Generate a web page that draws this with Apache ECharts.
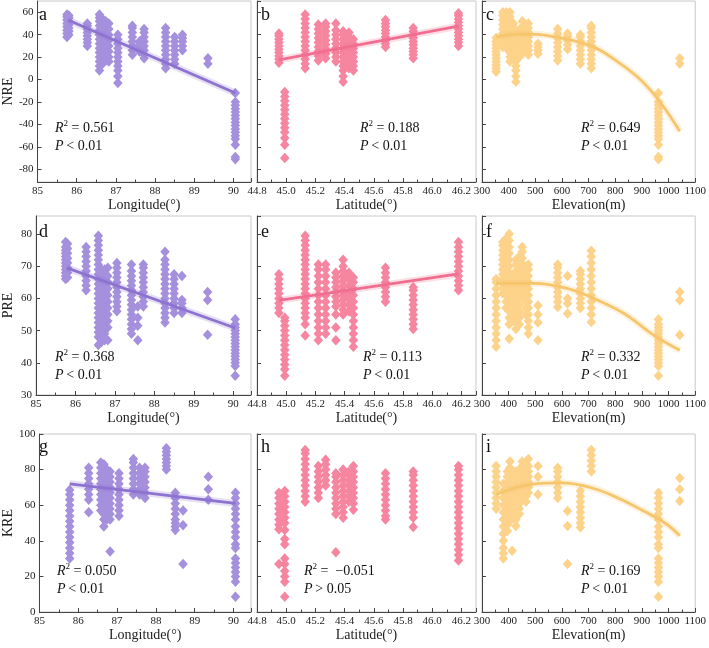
<!DOCTYPE html>
<html>
<head>
<meta charset="utf-8">
<script src="https://cdn.jsdelivr.net/npm/echarts@6/dist/echarts.min.js"></script>
<style>
  body { margin: 0; background: #fff; }
  #main { width: 709px; height: 648px; }
</style>
</head>
<body>
<div id="main"></div>
<script>
// columns of points: [x, [y values]]
const nreLon = [
  [85.75, [38, 41, 44, 47, 50, 53, 56, 58]],
  [85.8, [40, 43, 46, 49, 52, 55, 57]],
  [86.27, [30, 33, 36, 39, 42, 45, 48, 50]],
  [86.58, [8, 12, 16, 20, 24, 28, 32, 36, 40, 44, 48, 52, 55, 58]],
  [86.66, [14, 18, 22, 26, 30, 34, 38, 42, 46, 50, 54]],
  [86.74, [17, 21, 25, 29, 33, 37, 41, 45, 49, 52]],
  [86.82, [16, 20, 25, 30, 35, 40, 45, 50]],
  [87.05, [-3, 3, 8, 12, 16, 20, 24, 28, 32, 36, 40]],
  [87.42, [22, 26, 30, 34, 38, 42, 46, 48]],
  [87.6, [25, 28, 31, 34]],
  [87.72, [19, 22, 26, 30, 34, 38, 42, 45]],
  [88.27, [10, 14, 18, 22, 26, 30, 34, 38, 42, 46]],
  [88.5, [14, 18, 22, 26, 30, 34, 38]],
  [88.7, [26, 30, 34, 37, 40]],
  [89.35, [14, 19]],
  [90.05, [-71, -69, -58, -53, -50, -47, -44, -41, -38, -35, -32, -29, -26, -23, -20, -12]]
]
const nreLat = [
  [44.95, [15, 18, 21, 24, 27, 30, 33, 36, 39, 41]],
  [44.99, [-70, -58, -52, -47, -43, -39, -35, -31, -27, -23, -19, -15, -11]],
  [45.13, [10, 14, 18, 22, 26, 30, 34, 38, 42, 46, 50, 54, 58]],
  [45.22, [17, 21, 25, 29, 33, 37, 41, 45, 49]],
  [45.27, [19, 23, 27, 31, 35, 39, 43, 47, 50]],
  [45.34, [16, 20, 24, 28, 32, 36, 40, 44, 50]],
  [45.39, [-2, 3, 8, 12, 16, 20, 24, 28, 32, 36, 40, 43]],
  [45.43, [10, 14, 18, 22, 26, 30, 34, 38, 42]],
  [45.46, [8, 12, 16, 20, 24, 28, 32, 36]],
  [45.68, [29, 32, 35, 38, 41, 44, 47, 50, 53]],
  [45.87, [19, 22, 25, 28, 31, 34, 37, 40, 43, 46]],
  [46.18, [30, 33, 36, 39, 42, 45, 48, 51, 54, 57, 59]]
]
const nreElev = [
  [353, [7, 10, 13, 16, 19, 22, 25, 28, 31, 34, 37]],
  [378, [29, 33, 37, 41, 45, 49, 53, 57, 60]],
  [392, [28, 32, 36, 40, 44, 48, 52, 56, 60]],
  [405, [16, 20, 24, 28, 32, 36, 40, 44, 48, 52, 56, 60]],
  [418, [30, 34, 38, 42, 46, 50]],
  [427, [-2, 3, 8, 12, 16, 20, 24, 28, 32, 36, 40, 44]],
  [440, [20, 24, 28, 32, 36, 40, 44]],
  [451, [23, 27, 31, 35, 39, 43, 47, 52]],
  [465, [25, 29, 33, 37, 41, 45, 49]],
  [474, [22, 26, 30, 34, 38, 42, 46, 50]],
  [510, [23, 26, 29, 32]],
  [584, [17, 21, 25, 29, 33, 37, 41, 45]],
  [621, [27, 31, 35, 39, 41]],
  [669, [14, 18, 22, 26, 30, 34, 38, 40]],
  [710, [10, 14, 18, 22, 26, 30, 34, 38, 42, 46, 48]],
  [962, [-71, -69, -58, -53, -50, -47, -44, -41, -38, -35, -32, -29, -26, -23, -20, -12]],
  [1042, [14, 19]]
]
const preLon = [
  [85.75, [66, 67, 68, 69, 70, 71, 72, 73, 74, 75, 76, 77.5]],
  [85.8, [66.5, 68, 69.5, 71, 72.5, 74, 75.5, 77]],
  [86.27, [62.5, 64, 65.5, 67, 68.5, 70, 71.5, 73, 74.5, 76]],
  [86.58, [45.5, 48, 49.5, 51, 52.5, 54, 55.5, 57, 58.5, 60, 61.5, 63, 64.5, 66, 67.5, 69, 70.5, 72, 73.5, 75, 76.5, 78, 79.5]],
  [86.66, [46.5, 48, 49.5, 51, 52.5, 54, 55.5, 57, 58.5, 60, 61.5, 63, 64.5, 66, 67.5, 69]],
  [86.74, [47, 49, 51, 53, 55, 57, 59, 61, 63, 65, 67, 69]],
  [86.82, [47, 51, 53, 55, 57, 59, 61, 63, 65, 67, 69.5]],
  [87.05, [56, 57.5, 59, 60.5, 62, 63.5, 65, 66.5, 68, 69.5, 71]],
  [87.42, [49, 50.5, 52, 53.5, 55, 56.5, 58, 59.5, 61, 62.5, 64, 65.5, 67, 68.5, 70.5]],
  [87.58, [47, 51.5, 54, 57.5]],
  [87.72, [57.5, 59, 60.5, 62, 63.5, 65, 66.5, 68, 69.5, 70.5]],
  [88.27, [52.5, 54, 55.5, 57, 58.5, 60, 61.5, 63, 64.5, 66, 67.5, 69, 70.5, 72, 74.5]],
  [88.5, [55.5, 57, 58.5, 60, 61.5, 63, 64.5, 66, 67.5]],
  [88.7, [55.5, 57, 58.5, 59.5, 67]],
  [89.35, [48.7, 59.5, 62]],
  [90.05, [36, 39, 40, 41, 42, 43, 44, 45, 46, 47, 48, 49, 50, 51, 52, 53.5]]
]
const preLat = [
  [44.95, [55.5, 57, 58.5, 60, 61.5, 63, 64.5, 66, 67.5]],
  [44.99, [36, 38, 39.5, 41, 42.5, 44, 45.5, 47, 48.5, 50, 51.5, 53, 54]],
  [45.13, [48.5, 52, 54, 55.5, 57, 58.5, 60, 61.5, 63, 64.5, 66, 67.5, 69, 70.5, 72, 73.5, 75, 76.5, 78, 79.5]],
  [45.22, [47, 49, 51, 53, 55, 57, 59, 61, 63, 65, 67, 69, 70.5]],
  [45.27, [49, 51, 53, 55, 57, 59, 61, 63, 65, 67, 69, 70.5]],
  [45.34, [47, 51, 55, 57.5, 59, 60.5, 62, 63.5, 65, 66.5, 68]],
  [45.39, [55, 56.5, 58, 59.5, 61, 62.5, 64, 65.5, 67, 68.5, 70, 72]],
  [45.43, [56, 58, 60, 62, 64, 66, 68]],
  [45.46, [45, 47, 49, 51, 53, 55, 57, 59, 61, 63, 65, 66.5]],
  [45.68, [59, 60.5, 62, 63.5, 65, 66.5, 68, 69.5]],
  [45.87, [50.5, 52, 53.5, 55, 56.5, 58, 59.5, 61, 62.5, 63.5]],
  [46.18, [62.5, 64, 65.5, 67, 68.5, 70, 71.5, 73, 74.5, 76, 77.5]]
]
const preElev = [
  [353, [45, 47, 49, 51, 53, 55, 57, 59, 61, 63, 65, 66]],
  [378, [61.5, 63, 64.5, 66, 67.5, 69, 70.5, 72, 73.5, 75, 76.5, 77.5]],
  [390, [57, 59, 61, 63, 65, 67, 69, 71, 73, 75, 77, 78.5]],
  [402, [47.5, 52, 54, 56, 58, 60, 62, 64, 66, 68, 70, 72, 74, 76, 78, 80]],
  [415, [53, 55, 57, 59, 61, 63, 65, 67]],
  [427, [50.5, 52.5, 54.5, 56.5, 58.5, 60.5, 62.5, 64.5, 66.5, 68.5, 70.5, 72]],
  [440, [52, 54, 56, 58, 60, 62, 64, 66, 68, 70, 72, 73]],
  [451, [60.5, 62.5, 64.5, 66.5, 68.5, 70.5, 72.5, 74.5, 76]],
  [465, [55, 57, 59, 61, 63, 65, 67, 69, 70]],
  [474, [49, 51, 53, 55, 57, 59, 61, 63, 65, 67, 69, 70.5]],
  [510, [47, 52.5, 55, 57.8]],
  [584, [57.3, 59, 60.5, 62, 63.5, 65, 66.5, 68, 69.5, 70.5]],
  [621, [55.3, 58.4, 60, 67]],
  [669, [57, 58.5, 60, 61.5, 63, 64.5, 66, 67.5, 68.5]],
  [710, [52.7, 55, 57, 59, 61, 63, 65, 67, 69, 71, 73, 74.8]],
  [962, [36, 39, 40, 41, 42, 43, 44, 45, 46, 47, 48, 49, 50, 51, 52, 53.5]],
  [1042, [48.6, 59.4, 62]]
]
const kreLon = [
  [85.78, [30, 33, 36, 39, 42, 45, 48, 51, 54, 57, 60, 63, 66, 68.5]],
  [86.27, [56, 63, 66, 69, 72, 75, 78, 81]],
  [86.58, [57, 60, 63, 66, 69, 72, 75, 78, 81, 84]],
  [86.66, [48, 52, 55, 58, 61, 64, 67, 70, 73, 76, 79, 83]],
  [86.74, [52, 55, 58, 61, 64, 67, 70, 73, 76, 80]],
  [86.82, [34, 52, 55, 58, 61, 64, 67, 70, 73, 76, 79]],
  [87.05, [54, 57, 60, 63, 66, 69, 72, 75, 78]],
  [87.42, [66, 69, 72, 75, 78, 81, 84, 86]],
  [87.58, [66, 69, 72, 75, 78, 81]],
  [87.72, [64, 67, 70, 73, 76, 79, 81]],
  [88.27, [80, 82, 84, 86, 88, 90, 92]],
  [88.5, [46, 48, 50, 52, 55, 58, 61, 64, 67]],
  [88.7, [27, 48.8, 57]],
  [89.35, [63, 69, 76]],
  [90.05, [8.5, 17, 20, 22.5, 25, 27.5, 30, 36, 38, 42, 45, 48, 52, 55, 58, 61, 64, 67]]
]
const kreLat = [
  [44.95, [27, 46.5, 49, 52, 55, 58, 61, 64, 67]],
  [44.99, [8.5, 17, 20, 23, 27, 30, 38, 41, 46, 50, 53, 56, 59, 62, 65, 68]],
  [45.13, [62, 65, 68, 71, 74, 77, 80, 83, 86, 89, 91]],
  [45.22, [64, 67, 70, 73, 76, 79, 82]],
  [45.27, [71, 74, 77, 80, 83, 85.5]],
  [45.34, [33.5, 55, 58, 61, 64, 67, 70, 73, 76, 78]],
  [45.39, [53, 56, 59, 62, 65, 68, 71, 74, 77, 80]],
  [45.43, [62, 65, 68, 71, 74, 77, 79]],
  [45.46, [57.5, 61, 64, 67, 70, 73, 76, 79, 82]],
  [45.68, [52, 54, 57, 60, 63, 66, 69, 72, 75, 78]],
  [45.87, [47.8, 53, 56, 59, 62, 65, 68, 71, 74, 77, 79]],
  [46.18, [29, 32, 35, 38, 41, 44, 47, 50, 53, 56, 59, 62, 65, 68, 71, 74, 77, 80, 82]]
]
const kreElev = [
  [353, [58, 61, 64, 67, 70, 73, 76, 79, 82]],
  [380, [30, 33, 36, 40, 44, 48, 52, 56, 60, 64, 68, 72]],
  [395, [45.5, 49, 52, 55, 58, 61, 64, 67, 70, 73, 76, 79]],
  [405, [51, 54, 57, 60, 63, 66, 69, 72, 75, 78, 81, 84.5]],
  [413, [34.4]],
  [427, [48.3, 52, 55, 58, 61, 64, 67, 70, 73, 76, 79]],
  [440, [55, 58, 61, 64, 67, 70, 73, 76, 80]],
  [451, [64, 67, 70, 73, 76, 79, 82, 84.5]],
  [465, [62, 65, 68, 71, 74, 77, 80, 83]],
  [474, [67, 70, 73, 76, 79, 82, 86]],
  [510, [66, 76, 82]],
  [584, [64, 67, 70, 73, 76, 79, 81]],
  [621, [27, 48.3, 56.7]],
  [669, [47.5, 50, 53, 56, 59, 62, 65, 68]],
  [710, [79, 82, 85, 88, 91]],
  [962, [8.5, 17, 20, 22.5, 25, 27.5, 30, 36, 38, 42, 45, 48, 52, 55, 58, 61, 64, 67]],
  [1042, [62.3, 68.9, 75.3]]
]

// fitted lines
const fitNreLon = [[85.78, 53], [90.05, -12]]
const fitNreLat = [[44.95, 17.5], [46.18, 47.5]]
const fitNreElev = [[353, 38], [440, 40.5], [500, 40.3], [587, 37.5], [710, 30], [808, 16], [894, 0], [968, -20], [1042, -46]]
const fitPreLon = [[85.78, 69.5], [90.05, 50.8]]
const fitPreLat = [[44.95, 59.4], [46.18, 67.6]]
const fitPreElev = [[353, 64.7], [500, 64.7], [624, 63], [722, 59.9], [833, 55.3], [944, 48.6], [1042, 43.9]]
const fitKreLon = [[85.78, 72], [90.05, 61]]
const fitKreElev = [[353, 66], [500, 72], [599, 72.5], [710, 69.8], [808, 64.2], [907, 56.7], [993, 49.3], [1042, 42.8]]

const letters = ['a', 'b', 'c', 'd', 'e', 'f', 'g', 'h', 'i']
const r2Labels = ['0.561', '0.188', '0.649', '0.368', '0.113', '0.332', '0.050', ' \u22120.051', '0.169']
const pLabels = ['< 0.01', '< 0.01', '< 0.01', '< 0.01', '< 0.01', '< 0.01', '< 0.01', '> 0.05', '< 0.01']
const xNames = ['Longitude(°)', 'Latitude(°)', 'Elevation(m)']
const yNames = ['NRE', 'PRE', 'KRE']

const FONT = 'Liberation Serif'
const PURPLE = ['#a590dd', '#8e72d0']
const PINK = ['#f6859f', '#f06e8f']
const YELLOW = ['#fdd38b', '#f7c56b']

const panels = [
  { pts: nreLon, fit: fitNreLon, color: PURPLE },
  { pts: nreLat, fit: fitNreLat, color: PINK },
  { pts: nreElev, fit: fitNreElev, color: YELLOW },
  { pts: preLon, fit: fitPreLon, color: PURPLE },
  { pts: preLat, fit: fitPreLat, color: PINK },
  { pts: preElev, fit: fitPreElev, color: YELLOW },
  { pts: kreLon, fit: fitKreLon, color: PURPLE },
  { pts: kreLat, fit: null, color: PINK },
  { pts: kreElev, fit: fitKreElev, color: YELLOW }
]

// layout of the 3x3 panels (px)
const colBox = [{ left: 35, width: 216 }, { left: 257, width: 219 }, { left: 482, width: 217 }]
const rowBox = [{ top: 1, height: 181 }, { top: 216, height: 179 }, { top: 434, height: 178 }]
const xRange = [
  { min: 85, max: 90.45, step: 1, fmt: v => String(v) },
  { min: 44.8, max: 46.3, step: 0.2, fmt: v => v.toFixed(1) },
  { min: 300, max: 1100, step: 100, fmt: v => String(v) }
]
const yRange = [
  { min: -91.3, max: 70, step: 20 },
  { min: 30, max: 85.6, step: 10 },
  { min: 0, max: 100, step: 20 }
]
const noteTop = [119, 348, 562]
const noteLeft = [[55, 360, 581], [55, 363, 581], [57, 304, 581]]
const letterTop = [6, 223, 438]

const toPoints = cols => cols.flatMap(([x, ys]) => ys.map(y => [x, y]))

const grids = [], xAxes = [], yAxes = [], series = [], graphics = []

panels.forEach((p, i) => {
  const r = Math.floor(i / 3), c = i % 3
  const xr = xRange[c], yr = yRange[r]
  grids.push({
    left: colBox[c].left, width: colBox[c].width,
    top: rowBox[r].top, height: rowBox[r].height,
    show: true, borderColor: '#c8c8c8', borderWidth: 1
  })
  xAxes.push({
    type: 'value', gridIndex: i,
    min: xr.min, max: xr.max, minInterval: xr.step, maxInterval: xr.step,
    name: xNames[c], nameLocation: 'middle', nameGap: 16,
    nameTextStyle: { fontFamily: FONT, fontSize: 14, color: '#222' },
    axisLine: { onZero: false, lineStyle: { color: '#444' } },
    axisTick: { inside: true, length: 4, lineStyle: { color: '#444' } },
    minorTick: { show: true, splitNumber: 2, length: 2.5, lineStyle: { color: '#444' } },
    splitLine: { show: false },
    axisLabel: {
      fontFamily: FONT, fontSize: 11, color: '#222', margin: 4,
      showMaxLabel: c === 2, formatter: xr.fmt
    }
  })
  yAxes.push({
    type: 'value', gridIndex: i,
    min: yr.min, max: yr.max, minInterval: yr.step, maxInterval: yr.step,
    name: c === 0 ? yNames[r] : '', nameLocation: 'middle', nameGap: 21,
    nameTextStyle: { fontFamily: FONT, fontSize: 14, color: '#222' },
    axisLine: { show: true, onZero: false, lineStyle: { color: '#444' } },
    axisTick: { show: true, inside: true, length: 4, lineStyle: { color: '#444' } },
    splitLine: { show: false },
    axisLabel: {
      show: c === 0, fontFamily: FONT, fontSize: 11, color: '#222', margin: 4,
      showMinLabel: r !== 0, showMaxLabel: r === 2
    }
  })
  series.push({
    type: 'scatter', xAxisIndex: i, yAxisIndex: i,
    symbol: 'diamond', symbolSize: [9.5, 10.5],
    itemStyle: { color: p.color[0], opacity: 1 },
    data: toPoints(p.pts)
  })
  if (p.fit) {
    // light band under the fit line
    series.push({
      type: 'line', xAxisIndex: i, yAxisIndex: i, data: p.fit,
      smooth: 0.4, symbol: 'none', z: 3,
      lineStyle: { color: p.color[1], width: 7, opacity: 0.22 }
    })
    series.push({
      type: 'line', xAxisIndex: i, yAxisIndex: i, data: p.fit,
      smooth: 0.4, symbol: 'none', z: 4,
      lineStyle: { color: p.color[1], width: 2.8 }
    })
  }
  graphics.push({
    type: 'text', x: colBox[c].left + 4, y: letterTop[r],
    style: { text: letters[i], font: '18px "' + FONT + '"', fill: '#111' }
  })
  graphics.push({
    type: 'text', x: noteLeft[r][c], y: noteTop[r],
    style: {
      text: '{i|R}{s|2}{n| = ' + r2Labels[i] + '}\n{i|P}{n|\u2009' + pLabels[i] + '}',
      fill: '#111',
      rich: {
        i: { fontFamily: FONT, fontSize: 14, fontStyle: 'italic', lineHeight: 18 },
        s: { fontFamily: FONT, fontSize: 9, verticalAlign: 'top', lineHeight: 12 },
        n: { fontFamily: FONT, fontSize: 14, lineHeight: 18 }
      }
    }
  })
})

const chart = echarts.init(document.getElementById('main'))
chart.setOption({
  animation: false,
  grid: grids,
  xAxis: xAxes,
  yAxis: yAxes,
  series: series,
  graphic: graphics
})
</script>
</body>
</html>
